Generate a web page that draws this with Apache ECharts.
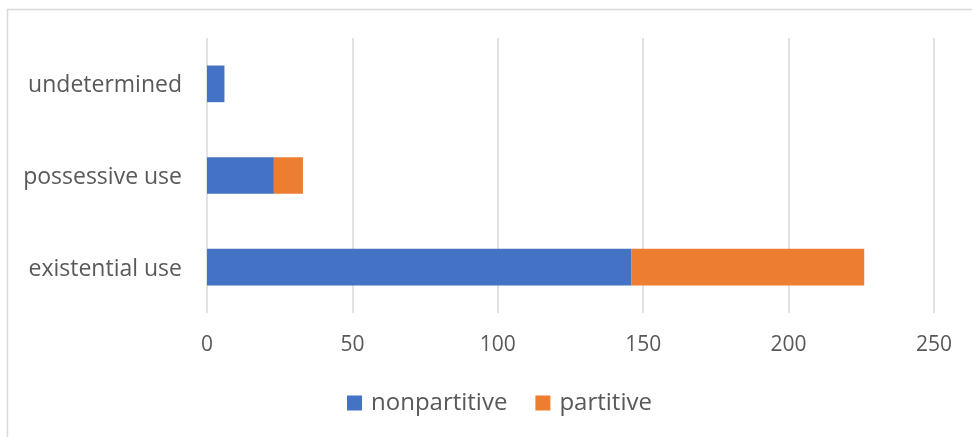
<!DOCTYPE html>
<html>
<head>
<meta charset="utf-8">
<script src="https://cdn.jsdelivr.net/npm/echarts@6/dist/echarts.min.js"></script>
<style>
html,body{margin:0;padding:0;background:#fff;}
#c{width:972px;height:437px;}
</style>
</head>
<body>
<div id="c"></div>
<script>
var categories = ['existential use', 'possessive use', 'undetermined'];
var nonpartitive = [146, 23, 6];
var partitive = [80, 10, 0];
var xTicks = [0, 50, 100, 150, 200, 250];

var chart = echarts.init(document.getElementById('c'), null, {renderer: 'canvas'});
var font = "'Open Sans', sans-serif";
chart.setOption({
  animation: false,
  backgroundColor: '#ffffff',
  graphic: [{
    type: 'rect',
    shape: {x: 7.5, y: 9.5, width: 1200, height: 1000},
    style: {fill: 'none', stroke: '#d9d9d9', lineWidth: 1.5},
    silent: true
  }],
  grid: {left: 207, right: 38, top: 38, bottom: 124, outerBoundsMode: 'none', containLabel: false},
  legend: {
    bottom: 17,
    left: 342,
    itemWidth: 15,
    itemHeight: 15,
    itemGap: 28,
    icon: 'rect',
    textStyle: {fontFamily: font, fontSize: 24, color: '#595959', padding: [0, 0, 0, 4]},
    data: ['nonpartitive', 'partitive']
  },
  xAxis: {
    type: 'value',
    min: xTicks[0],
    max: xTicks[xTicks.length - 1],
    interval: 50,
    axisLine: {show: false},
    axisTick: {show: false},
    splitLine: {show: true, lineStyle: {color: '#d9d9d9', width: 1.5}},
    axisLabel: {fontFamily: font, fontSize: 21, color: '#595959', margin: 22}
  },
  yAxis: {
    type: 'category',
    data: categories,
    axisLine: {show: false},
    axisTick: {show: false},
    axisLabel: {
      fontFamily: font, fontSize: 23, color: '#595959', margin: 25,
      formatter: function (v) { return '{a|' + v + '}'; },
      rich: {a: {fontFamily: font, fontSize: 23, color: '#595959', padding: [4, 0, 0, 0]}}
    }
  },
  series: [
    {name: 'nonpartitive', type: 'bar', stack: 'a', data: nonpartitive, barCategoryGap: '60%', itemStyle: {color: '#4472C4'}},
    {name: 'partitive', type: 'bar', stack: 'a', data: partitive, barCategoryGap: '60%', itemStyle: {color: '#ED7D31'}}
  ]
});
</script>
</body>
</html>
